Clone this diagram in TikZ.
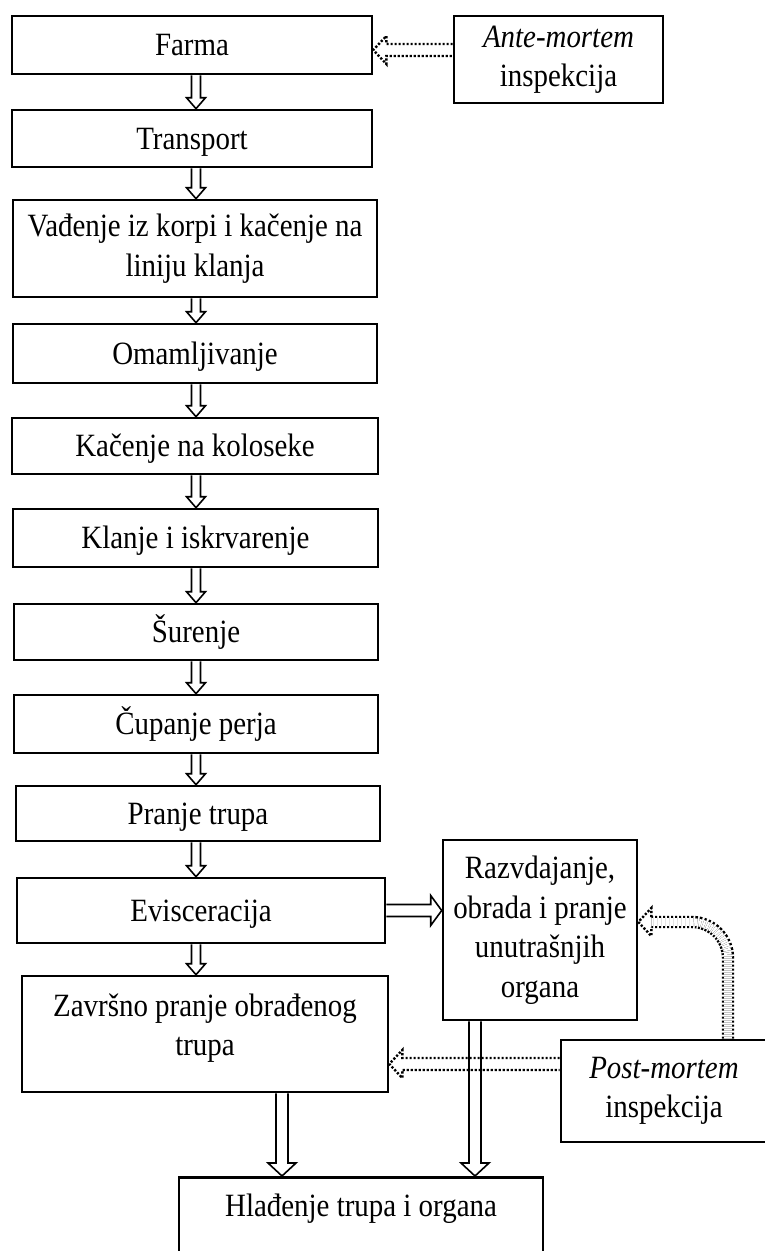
\documentclass[tikz,border=0pt]{standalone}
\usepackage{fontspec}
\setmainfont{Liberation Serif}[FakeStretch=0.89]
\usetikzlibrary{calc}
\tikzset{
  txt/.style={inner sep=0pt, align=center, font=\fontsize{32.5}{39.5}\selectfont},
  box/.style={txt, draw, line width=2.6pt, fill=white},
  onel/.style={box, text height=21.5pt, text depth=0pt},
  blk/.style={draw, line width=1.6pt, line join=miter},
  dotl/.style={draw, line width=2.4pt, dash pattern=on 2.2pt off 1.8pt},
  dotdbl/.style={line width=2.4pt, double, double distance=7.6pt, dash pattern=on 2.2pt off 1.8pt},
}
% vertical block arrow: from, to, x-coordinate, shaft half width, head half width, head length
\newcommand\varr[6]{%
  \path (#1.south -| #3) coordinate (va) (#2.north -| #3) coordinate (vb);
  \draw[blk] ($(va)+(-#4,0)$) -- ($(vb)+(-#4,-#6)$) -- ($(vb)+(-#5,-#6)$) -- (vb)
    -- ($(vb)+(#5,-#6)$) -- ($(vb)+(#4,-#6)$) -- ($(va)+(#4,0)$);}
% horizontal block arrow: from, to, shaft half width, head half width, head length
\newcommand\harr[5]{%
  \path (#1.east) coordinate (ha) (#2.west |- ha) coordinate (hb);
  \draw[blk] ($(ha)+(0,-#3)$) -- ($(hb)+(-#5,-#3)$) -- ($(hb)+(-#5,-#4)$) -- (hb)
    -- ($(hb)+(-#5,#4)$) -- ($(hb)+(-#5,#3)$) -- ($(ha)+(0,#3)$);}
% dotted leftward block arrow: tail node, tip coordinate
\newcommand\dotarr[2]{%
  \path (#1.west |- #2) coordinate (dt);
  \draw[dotl] ($(dt)+(0,-6)$) -- ($(#2)+(13,-6)$) -- ($(#2)+(13,-14)$) -- (#2)
    -- ($(#2)+(13,14)$) -- ($(#2)+(13,6)$) -- ($(dt)+(0,6)$);}
\begin{document}
\begin{tikzpicture}[x=1pt,y=-1pt]
\useasboundingbox (0,0) rectangle (765,1251);
\clip (0,0) rectangle (765,1251);

\node[onel, minimum width=360pt, minimum height=58pt] (farma) at (192,45) {Farma};
\node[onel, minimum width=360pt, minimum height=57pt] (trans) at (192,138.5) {Transport};
\node[box, minimum width=364pt, minimum height=97pt] (vad) at (195,248.5) {Vađenje iz korpi i kačenje na\\liniju klanja};
\node[onel, minimum width=364pt, minimum height=59pt] (omam) at (195,353.5) {Omamljivanje};
\node[onel, minimum width=366pt, minimum height=56pt] (kac) at (195,446) {Kačenje na koloseke};
\node[onel, minimum width=365pt, minimum height=58pt] (klan) at (195.5,538) {Klanje i iskrvarenje};
\node[onel, minimum width=364pt, minimum height=56pt] (sur) at (196,632) {Šurenje};
\node[onel, minimum width=364pt, minimum height=58pt] (cup) at (196,724) {Čupanje perja};
\node[onel, minimum width=364pt, minimum height=55pt] (pran) at (198,813.5) {Pranje trupa};
\node[onel, minimum width=368pt, minimum height=65pt] (evis) at (201,910.5) {Evisceracija};
\node[box, minimum width=366pt, minimum height=116pt] (zav) at (205,1034) {};
\node[txt] (zavt) at (205,1028) {Završno pranje obrađenog\\trupa};
\node[box, minimum width=194pt, minimum height=180pt] (razv) at (540,930) {Razvdajanje,\\obrada i pranje\\unutrašnjih\\organa};
\node[box, minimum width=209pt, minimum height=87pt] (ante) at (558.5,59.5) {\textit{Ante-mortem}\\inspekcija};
\node[box, minimum width=206pt, minimum height=102pt] (post) at (664,1091) {\textit{Post-mortem}\\inspekcija};
\node[box, anchor=north, minimum width=364pt, text height=39pt, text depth=90pt] (hlad) at (361,1176) {Hlađenje trupa i organa};

\coordinate (ax) at (196,0);
\coordinate (ax2) at (282,0);
\coordinate (ax3) at (475,0);
\coordinate (cx) at (728,0);

\varr{farma}{trans}{ax}{4.5}{9.5}{11}
\varr{trans}{vad}{ax}{4.5}{9.5}{11}
\varr{vad}{omam}{ax}{4.5}{9.5}{11}
\varr{omam}{kac}{ax}{4.5}{9.5}{11}
\varr{kac}{klan}{ax}{4.5}{9.5}{11}
\varr{klan}{sur}{ax}{4.5}{9.5}{11}
\varr{sur}{cup}{ax}{4.5}{9.5}{11}
\varr{cup}{pran}{ax}{4.5}{9.5}{11}
\varr{pran}{evis}{ax}{4.5}{9.5}{11}
\varr{evis}{zav}{ax}{4.5}{9.5}{11}
\varr{zav}{hlad}{ax2}{6}{14}{13}
\varr{razv}{hlad}{ax3}{6}{14}{13}
\harr{evis}{razv}{6}{15}{11}

\coordinate (t1) at ($(farma.east)+(0,5)$);
\dotarr{ante}{t1}
\coordinate (t2) at ($(zav.east)+(0,30)$);
\dotarr{post}{t2}

\coordinate (s3) at (post.north -| cx);
\coordinate (t3) at ($(razv.east)+(0,-8)$);
\coordinate (hb3) at ($(t3)+(13,0)$);
\draw[dotdbl, rounded corners=36pt] (s3) |- (hb3);
\draw[dotl] ($(hb3)+(0,-5)$) -- ($(hb3)+(0,-14)$) -- (t3) -- ($(hb3)+(0,14)$) -- ($(hb3)+(0,5)$);
\end{tikzpicture}
\end{document}
